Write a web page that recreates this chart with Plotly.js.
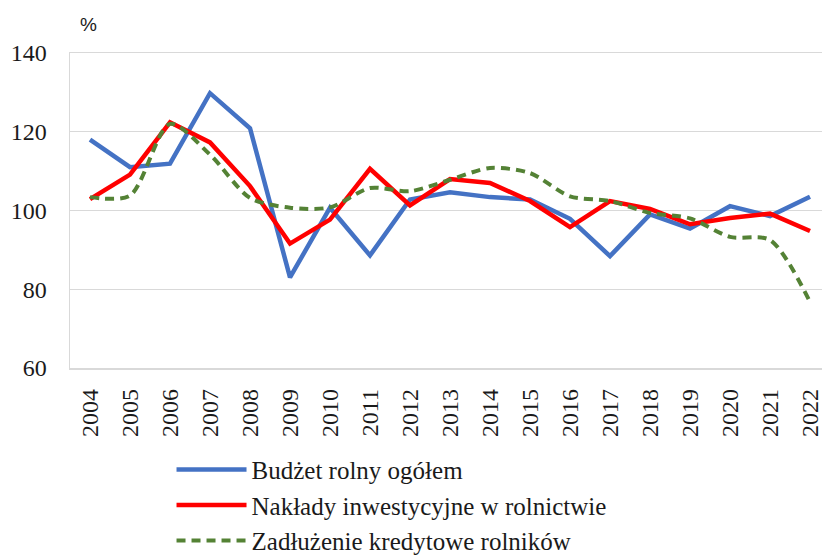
<!DOCTYPE html>
<html>
<head>
<meta charset="utf-8">
<script src="https://cdn.plot.ly/plotly-3.0.1.min.js"></script>
<style>html,body{margin:0;padding:0;background:#fff;}#chart{width:822px;height:555px;}</style>
</head>
<body>
<div id="chart"></div>
<script>
const years = ['2004','2005','2006','2007','2008','2009','2010','2011','2012','2013','2014','2015','2016','2017','2018','2019','2020','2021','2022'];
const budzet = [118.0,111.0,111.9,129.8,120.9,83.0,100.7,88.6,102.8,104.6,103.4,102.8,97.9,88.4,99.0,95.4,101.1,98.6,103.5];
const naklady = [102.9,109.1,122.4,117.3,106.2,91.6,97.7,110.6,101.3,108.0,107.0,102.4,95.8,102.4,100.4,96.5,98.1,99.2,94.8];
const zadluzenie = [103.4,103.8,122.0,114.2,103.2,100.7,100.8,105.7,104.9,107.8,110.8,109.5,103.6,102.4,99.4,98.0,93.3,92.5,76.8];
const yTicks = [60,80,100,120,140];

const font = "Liberation Serif";
const data = [
  {x: years, y: budzet, type: 'scatter', mode: 'lines', name: 'Budżet rolny ogółem',
   line: {color: '#4472C4', width: 4.5}},
  {x: years, y: naklady, type: 'scatter', mode: 'lines', name: 'Nakłady inwestycyjne w rolnictwie',
   line: {color: '#FF0000', width: 4.5}},
  {x: years, y: zadluzenie, type: 'scatter', mode: 'lines', name: 'Zadłużenie kredytowe rolników',
   line: {color: '#548235', width: 4, dash: '9px,6px', shape: 'spline', smoothing: 0.8}}
];
const layout = {
  width: 822, height: 555,
  margin: {l: 70, r: 0, t: 53, b: 187},
  paper_bgcolor: '#fff', plot_bgcolor: '#fff',
  font: {family: font, size: 24, color: '#1a1a1a'},
  showlegend: true,
  legend: {orientation: 'v', x: 0.135, xanchor: 'left', yref: 'container', y: 0.195, yanchor: 'top',
           font: {family: font, size: 25, color: '#1a1a1a'}, itemwidth: 70, bgcolor: 'rgba(0,0,0,0)'},
  xaxis: {type: 'category', range: [-0.5, 18.3], tickangle: -90, showgrid: false,
          showline: true, linecolor: '#d9d9d9', linewidth: 1.5, mirror: true,
          ticks: '', ticklabelstandoff: 10, tickfont: {family: font, size: 24, color: '#1a1a1a'}},
  yaxis: {range: [60, 140], tickvals: yTicks, ticktext: yTicks.map(String),
          showgrid: true, gridcolor: '#d9d9d9', gridwidth: 1, zeroline: false,
          showline: true, linecolor: '#d9d9d9', linewidth: 1.5, mirror: true,
          ticks: '', ticklabelstandoff: 17, tickfont: {family: font, size: 24, color: '#1a1a1a'}},
  annotations: [{text: '%', xref: 'paper', yref: 'paper', x: 0.01, y: 1.05, xanchor: 'left', yanchor: 'bottom',
                 showarrow: false, font: {family: 'Liberation Sans', size: 19, color: '#1a1a1a'}}]
};
Plotly.newPlot('chart', data, layout, {displayModeBar: false, staticPlot: true});
</script>
</body>
</html>
